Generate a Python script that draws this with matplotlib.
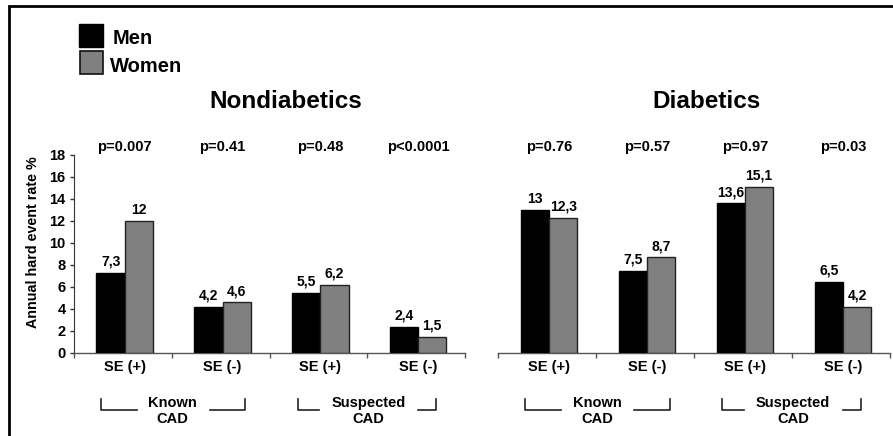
import matplotlib
matplotlib.use("Agg")
import matplotlib.pyplot as plt
from matplotlib.lines import Line2D
from matplotlib.patches import Rectangle
import matplotlib.transforms as mtransforms
import numpy as np

plt.rcParams['font.family'] = ['Liberation Sans', 'DejaVu Sans']
plt.rcParams['font.weight'] = 'bold'

# ---- data ----
categories = ["SE (+)", "SE (-)", "SE (+)", "SE (-)"]
panel_titles = ["Nondiabetics", "Diabetics"]
series_names = ["Men", "Women"]
nondiab_men = [7.3, 4.2, 5.5, 2.4]
nondiab_women = [12.0, 4.6, 6.2, 1.5]
diab_men = [13.0, 7.5, 13.6, 6.5]
diab_women = [12.3, 8.7, 15.1, 4.2]
nondiab_p = ["p=0.007", "p=0.41", "p=0.48", "p<0.0001"]
diab_p = ["p=0.76", "p=0.57", "p=0.97", "p=0.03"]
group_labels = ["Known\nCAD", "Suspected\nCAD"]
yticks = [0, 2, 4, 6, 8, 10, 12, 14, 16, 18]
ylabel = "Annual hard event rate %"

W, H = 893, 436
fig = plt.figure(figsize=(W / 100, H / 100), dpi=100)

def fx(px):
    return px / W

def fy(py):
    return 1 - py / H

ax_bottom = fy(353)
ax_h = (353 - 155) / H
axL = fig.add_axes([fx(74), ax_bottom, (465 - 74) / W, ax_h])
axR = fig.add_axes([fx(498), ax_bottom, (890 - 498) / W, ax_h])

black = "#000000"
gray = "#808080"
bw = 0.29

panels = [
    (axL, nondiab_men, nondiab_women, nondiab_p),
    (axR, diab_men, diab_women, diab_p),
]

x = np.arange(len(categories)) + 0.52
for ax, men, women, pv in panels:
    b1 = ax.bar(x - bw / 2, men, bw, color=black, edgecolor="black", linewidth=1.0, zorder=3)
    b2 = ax.bar(x + bw / 2, women, bw, color=gray, edgecolor="#222222", linewidth=1.0, zorder=3)
    for bars, vals in ((b1, men), (b2, women)):
        for r, v in zip(bars, vals):
            lab = ("%g" % v).replace(".", ",")
            ax.annotate(lab, (r.get_x() + r.get_width() / 2, v), xytext=(0, 3),
                        textcoords="offset points", ha="center", va="bottom",
                        fontsize=10, fontweight="bold")
    ax.set_xlim(0, 4)
    ax.set_ylim(0, 18)
    ax.set_xticks([0, 1, 2, 3, 4])
    ax.set_xticklabels([])
    ax.tick_params(axis="x", which="major", direction="out", length=3.8, width=1.0, color="#555555")
    ax.set_xticks(x, minor=True)
    ax.set_xticklabels(categories, minor=True, fontsize=10.5, fontweight="bold")
    ax.tick_params(axis="x", which="minor", length=0, pad=5)
    for s in ("top", "right"):
        ax.spines[s].set_visible(False)
    ax.spines["bottom"].set_color("#555555")
    ax.spines["bottom"].set_linewidth(1.0)
    # p-values
    for xi, p in zip(x, pv):
        ax.text(xi, 18.7, p, ha="center", va="center", fontsize=10.5, fontweight="bold", clip_on=False)
    # bracket group labels
    tr = mtransforms.blended_transform_factory(ax.transData, ax.transAxes)
    y_h, y_v = -0.288, -0.232
    brackets = [((0.28, 0.64), (1.39, 1.75), 1.01, group_labels[0]),
                ((2.29, 2.51), (3.52, 3.70), 3.01, group_labels[1])]
    for (l0, l1), (r0, r1), tc, lab in brackets:
        ax.add_line(Line2D([l0, l0, l1], [y_v, y_h, y_h], transform=tr, color="#222222", lw=1.2, clip_on=False))
        ax.add_line(Line2D([r0, r1, r1], [y_h, y_h, y_v], transform=tr, color="#222222", lw=1.2, clip_on=False))
        ax.text(tc, y_h - 0.005, lab, transform=tr, ha="center", va="center", fontsize=10.5,
                fontweight="bold", linespacing=1.15)

axL.set_yticks(yticks)
axL.set_yticklabels([str(t) for t in yticks], fontsize=10.5, fontweight="bold")
axL.tick_params(axis="y", direction="out", length=3, width=1.0, color="#333333", pad=3)
axL.spines["left"].set_color("#333333")
axL.set_ylabel(ylabel, fontsize=10.3, fontweight="bold")
axL.yaxis.set_label_coords(-0.087, 0.56)

axR.spines["left"].set_visible(False)
axR.set_yticks([])

# panel titles
fig.text(fx(286), fy(101), panel_titles[0], ha="center", va="center", fontsize=17.5, fontweight="bold")
fig.text(fx(707), fy(101), panel_titles[1], ha="center", va="center", fontsize=17.5, fontweight="bold")

# legend
fig.add_artist(Rectangle((fx(79), fy(47)), 24 / W, 23 / H, transform=fig.transFigure,
                         facecolor=black, edgecolor="black", lw=1))
fig.add_artist(Rectangle((fx(80), fy(74)), 23 / W, 23 / H, transform=fig.transFigure,
                         facecolor=gray, edgecolor="#111111", lw=1.2))
fig.text(fx(113), fy(38.5), series_names[0], ha="left", va="center", fontsize=14.5, fontweight="bold")
fig.text(fx(110), fy(66), series_names[1], ha="left", va="center", fontsize=14.5, fontweight="bold")

# frame (top and left)
fig.add_artist(Line2D([fx(9), fx(9), 1.0], [0.0, fy(6), fy(6)], transform=fig.transFigure,
                      color="black", lw=2.0, solid_joinstyle="miter"))

fig.savefig("out.png", dpi=100)
